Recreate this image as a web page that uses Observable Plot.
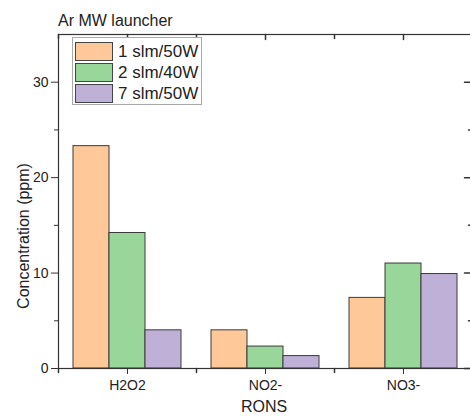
<!DOCTYPE html>
<html>
<head>
<meta charset="utf-8">
<script src="https://cdn.jsdelivr.net/npm/d3@7"></script>
<script src="https://cdn.jsdelivr.net/npm/@observablehq/plot@0.6"></script>
<style>
  html, body { margin: 0; padding: 0; background: #fff; overflow: hidden; }
  #chart { position: relative; width: 470px; height: 416px; overflow: hidden;
           font-family: "Liberation Sans", Arial, sans-serif; color: #222; }
  #chart svg { position: absolute; left: 0; top: 0; max-width: none !important; }
  .title, .xlabel, .ylabel { position: absolute; font-size: 16px; line-height: 1; white-space: nowrap; }
  .title { left: 58px; top: 13px; }
  .xlabel { left: 264px; top: 399px; transform: translateX(-50%); }
  .ylabel { left: 24px; top: 236px; transform: translate(-50%, -50%) rotate(-90deg); }
  .legend { position: absolute; left: 72px; top: 37px; width: 130px; height: 68px;
            box-sizing: border-box; border: 1px solid #a8a8a8; background: #fff; padding: 3px 0 0 2px; }
  .legend .row { display: flex; align-items: center; height: 21px; }
  .legend .sw { width: 38px; height: 19px; box-sizing: border-box; border: 1px solid #444; margin-right: 5px; }
  .legend .lab { font-size: 17px; line-height: 1; color: #222; }
</style>
</head>
<body>
<div id="chart"></div>
<script>
// Ion concentrations (ppm) measured for each argon flow / power setting
const categories = ["H2O2", "NO2-", "NO3-"];
const series = ["1 slm/50W", "2 slm/40W", "7 slm/50W"];
const slm1w50 = [23.3, 4.0, 7.4];
const slm2w40 = [14.2, 2.3, 11.0];
const slm7w50 = [4.0, 1.3, 9.9];
const colors = ["#fec898", "#99d69a", "#bfb0d7"];
const yMajor = [0, 10, 20, 30];
const yMinor = [5, 15, 25];
const title = "Ar MW launcher";
const xTitle = "RONS";
const yTitle = "Concentration (ppm)";

const seriesValues = [slm1w50, slm2w40, slm7w50];
const rows = series.flatMap((s, i) =>
  categories.map((c, j) => ({category: c, series: s, value: seriesValues[i][j]}))
);

// a plain line segment used for the inward / minor tick marks
const tickShape = {draw(context, length) { context.moveTo(0, 0); context.lineTo(0, -length); }};
const ink = "#333";
const last = categories[categories.length - 1];
const noLabel = () => "";

const chart = Plot.plot({
  width: 473,
  height: 416,
  marginLeft: 58,
  marginRight: 1,
  marginTop: 34,
  marginBottom: 48,
  style: {fontFamily: "'Liberation Sans', Arial, sans-serif", fontSize: "14px", color: "#222", background: "transparent"},
  fx: {domain: categories, padding: 0, label: null},
  x: {domain: series, paddingInner: 0, paddingOuter: 0.377, axis: null},
  y: {domain: [0, 35], label: null},
  color: {domain: series, range: colors},
  marks: [
    Plot.barY(rows, {fx: "category", x: "series", y: "value", fill: "series", stroke: "#3a3a3a", strokeWidth: 1}),
    Plot.frame({facet: "super", stroke: ink, strokeWidth: 1.2}),
    // left axis: labelled major ticks, shorter unlabelled minor ticks
    Plot.axisY({ticks: yMajor, tickSize: 7, tickPadding: 3, fontSize: 14, label: null, stroke: ink}),
    Plot.axisY({ticks: yMinor, tickSize: 4, tickFormat: noLabel, label: null, stroke: ink}),
    // right axis: inward ticks only
    Plot.vector(yMajor, {fx: () => last, y: d => d, frameAnchor: "right", length: 8, rotate: -90, anchor: "start", shape: tickShape, stroke: ink}),
    Plot.vector(yMinor, {fx: () => last, y: d => d, frameAnchor: "right", length: 4, rotate: -90, anchor: "start", shape: tickShape, stroke: ink}),
    // bottom axis with category labels
    Plot.axisFx({anchor: "bottom", tickSize: 6, tickPadding: 6, fontSize: 14, label: null, stroke: ink}),
    // minor ticks between categories (bottom, outward) and top ticks (inward)
    Plot.vector([0], {frameAnchor: "bottom-left", length: 4, rotate: 180, anchor: "start", shape: tickShape, stroke: ink}),
    Plot.vector([0], {frameAnchor: "top-left", length: 4, rotate: 180, anchor: "start", shape: tickShape, stroke: ink}),
    Plot.vector([0], {frameAnchor: "top", length: 5, rotate: 180, anchor: "start", shape: tickShape, stroke: ink})
  ]
});

const root = document.getElementById("chart");
root.appendChild(chart);

const addText = (cls, text) => {
  const el = document.createElement("div");
  el.className = cls;
  el.textContent = text;
  root.appendChild(el);
};
addText("title", title);
addText("xlabel", xTitle);
addText("ylabel", yTitle);

// legend box built from the series names and their colours
const legend = document.createElement("div");
legend.className = "legend";
series.forEach((s, i) => {
  const row = document.createElement("div");
  row.className = "row";
  const sw = document.createElement("div");
  sw.className = "sw";
  sw.style.background = colors[i];
  const lab = document.createElement("div");
  lab.className = "lab";
  lab.textContent = s;
  row.appendChild(sw);
  row.appendChild(lab);
  legend.appendChild(row);
});
root.appendChild(legend);
</script>
</body>
</html>
